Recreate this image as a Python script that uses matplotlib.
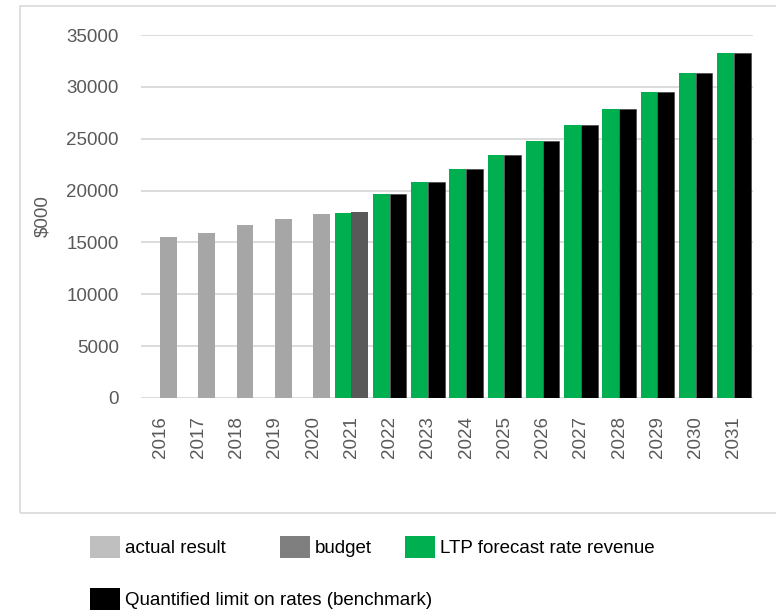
import matplotlib
matplotlib.use("Agg")
import matplotlib.pyplot as plt
import numpy as np
from matplotlib.patches import Rectangle, Patch

# Rates revenue, $000
years = [str(y) for y in range(2016, 2032)]
actual_years = ["2016", "2017", "2018", "2019", "2020"]
actual = [15500, 15900, 16700, 17250, 17750]
budget_years = ["2021"]
budget = [17900]
ltp_years = [str(y) for y in range(2021, 2032)]
ltp = [17850, 19650, 20800, 22050, 23400, 24800, 26300, 27850, 29550, 31300, 33250]
bench_years = [str(y) for y in range(2022, 2032)]
bench = [19650, 20800, 22050, 23400, 24800, 26300, 27850, 29550, 31300, 33250]

C_ACTUAL = "#a6a6a6"
C_BUDGET = "#595959"
C_LTP = "#00b050"
C_BENCH = "#000000"
TXT = "#595959"

W, H = 776, 612
fig = plt.figure(figsize=(W / 100, H / 100), dpi=100)
plt.rcParams["font.family"] = ["Liberation Sans", "DejaVu Sans"]

# outer chart frame
fig.patches.append(Rectangle((20 / W, 1 - 513 / H), 1.0, (513 - 6) / H,
                             transform=fig.transFigure, fill=False,
                             edgecolor="#d9d9d9", linewidth=1.2))

ax = fig.add_axes([141 / W, 1 - 398 / H, (753 - 141) / W, (398 - 35) / H])

pos = {y: i for i, y in enumerate(years)}
bw = 0.44
off = 0.22

ax.bar([pos[y] + off for y in actual_years], actual, width=bw, color=C_ACTUAL, zorder=2)
ax.bar([pos[y] + off for y in budget_years], budget, width=bw, color=C_BUDGET, zorder=2)
ax.bar([pos[y] - off for y in ltp_years], ltp, width=bw, color=C_LTP, zorder=2)
ax.bar([pos[y] + off for y in bench_years], bench, width=bw, color=C_BENCH,
       edgecolor="#3a3a3a", linewidth=0.4, zorder=2)

ax.set_xlim(-0.5, len(years) - 0.5)
ax.set_ylim(0, 35000)
ax.set_yticks(np.arange(0, 35001, 5000))
ax.set_xticks(range(len(years)))
ax.set_xticklabels(years, rotation=90)
ax.tick_params(axis="both", length=0, labelsize=13.5, labelcolor=TXT)
ax.tick_params(axis="y", pad=16)
ax.tick_params(axis="x", pad=13)
for s in ax.spines.values():
    s.set_visible(False)
ax.grid(axis="y", color="#d9d9d9", linewidth=1.3, zorder=0)
ax.set_axisbelow(True)
ax.set_ylabel("$000", fontsize=13.5, color=TXT, labelpad=11)

# legend entries
legend_items = [
    ("actual result", "#bfbfbf", 90, 547),
    ("budget", "#7f7f7f", 280, 547),
    ("LTP forecast rate revenue", C_LTP, 405, 547),
    ("Quantified limit on rates (benchmark)", C_BENCH, 90, 599),
]
for label, color, x, y in legend_items:
    fig.legend(handles=[Patch(facecolor=color, edgecolor="none")], labels=[label],
               loc="center left", bbox_to_anchor=(x / W, 1 - y / H),
               frameon=False, borderpad=0, borderaxespad=0,
               handlelength=1.6, handleheight=1.5, handletextpad=0.27,
               prop={"family": ["Liberation Sans Narrow", "Liberation Sans"], "size": 13.5})

fig.savefig("out.png", dpi=100)
